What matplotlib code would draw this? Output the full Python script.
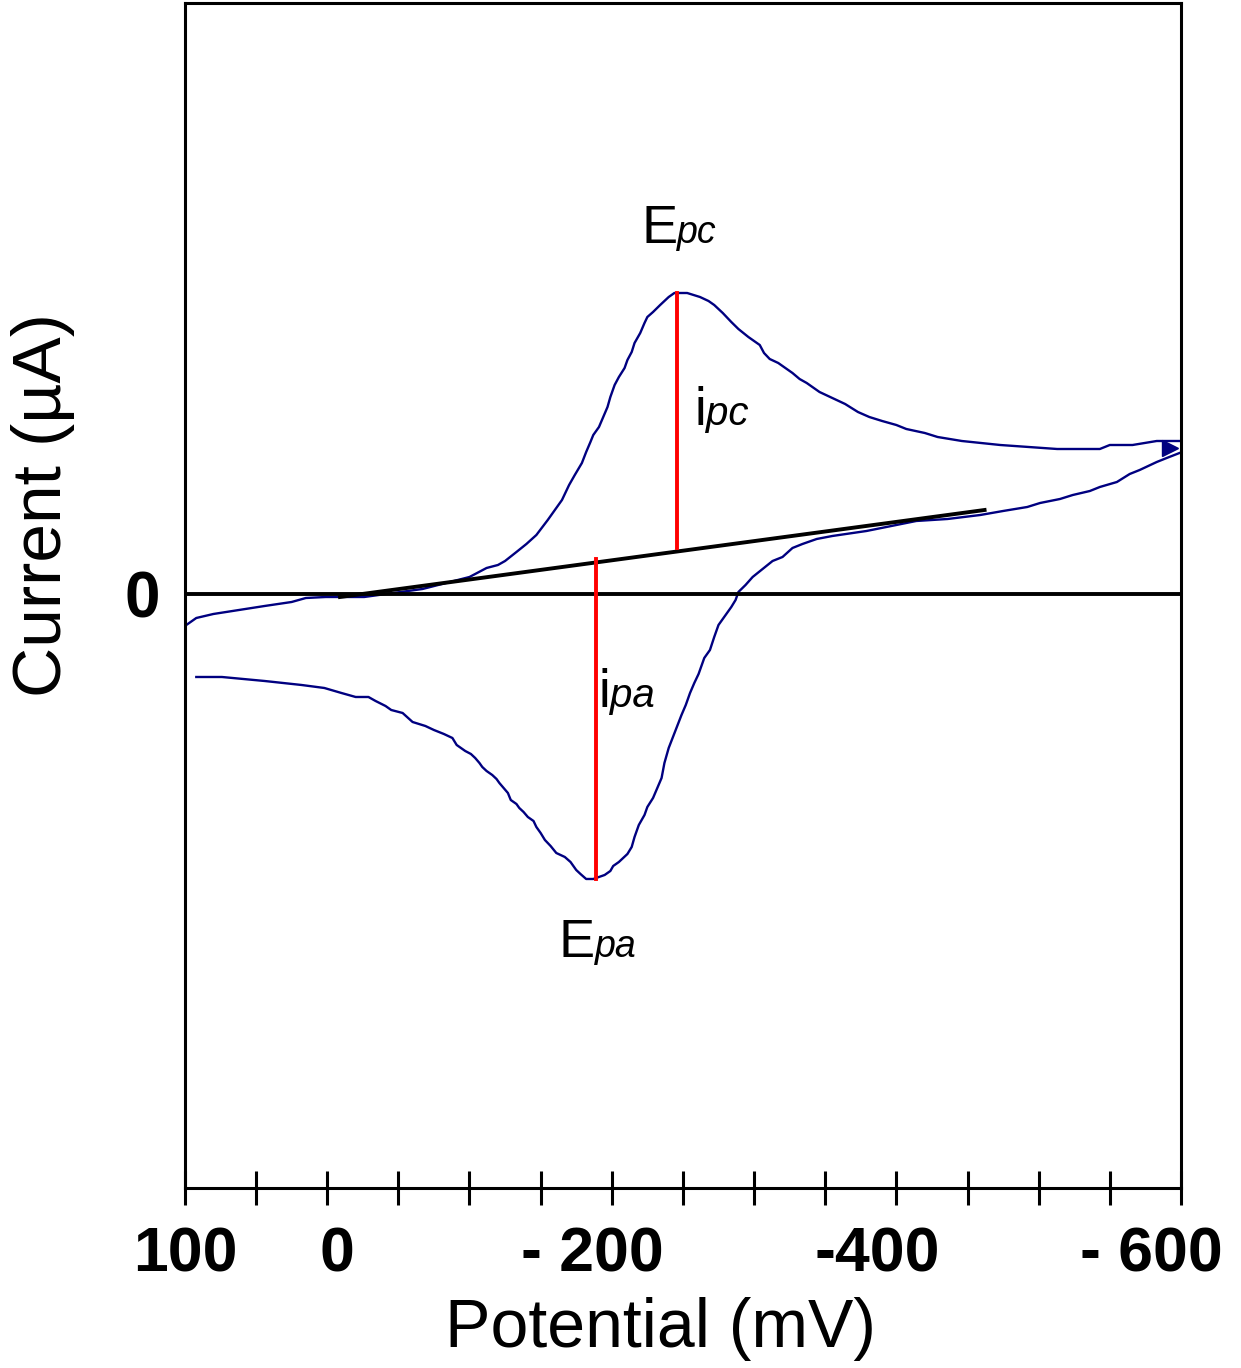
import matplotlib
matplotlib.use('Agg')
import matplotlib.pyplot as plt
import matplotlib.transforms as mtransforms
from matplotlib.ticker import FixedLocator

# forward scan (100 -> -600 mV), cathodic peak
fwd_mv = [99, 92, 80, 62, 44, 25, 15, 1, -26, -67, -100, -112, -120, -125, -133, -140,
          -147, -155, -161, -165, -170, -174, -179, -182, -185, -187, -191, -194, -197,
          -199, -202, -205, -209, -211, -214, -216, -220, -223, -225, -229, -234, -237,
          -240, -244, -253, -262, -268, -272, -278, -284, -289, -296, -304, -307, -311,
          -317, -327, -332, -337, -346, -352, -364, -373, -381, -390, -400, -407, -420,
          -429, -446, -473, -513, -543, -550, -566, -583, -599]
fwd_i = [-3.1, -2.4, -2.0, -1.6, -1.2, -0.8, -0.4, -0.3, -0.3, 0.5, 1.7, 2.6, 2.9, 3.3,
         4.2, 5.0, 5.9, 7.4, 8.6, 9.4, 10.9, 11.9, 13.1, 14.2, 15.2, 15.9, 16.7, 17.7,
         18.7, 19.7, 20.9, 21.7, 22.6, 23.4, 24.2, 25.1, 26.1, 27.1, 27.7, 28.2, 28.9,
         29.3, 29.7, 30.1, 30.1, 29.7, 29.3, 28.9, 28.1, 27.2, 26.5, 25.7, 24.9, 24.1,
         23.5, 23.1, 22.1, 21.5, 21.1, 20.2, 19.8, 19.0, 18.2, 17.7, 17.3, 16.9, 16.5,
         16.1, 15.7, 15.3, 14.9, 14.5, 14.5, 14.9, 14.9, 15.3, 15.3]

# reverse scan (-600 -> 100 mV), anodic peak
rev_mv = [-599, -590, -583, -571, -564, -555, -543, -536, -524, -515, -501, -492, -475,
          -459, -436, -414, -379, -355, -344, -334, -327, -320, -313, -306, -299, -294,
          -289, -287, -284, -280, -278, -275, -272, -269, -265, -263, -261, -258, -255,
          -252, -249, -246, -243, -240, -237, -235, -232, -229, -225, -223, -219, -216,
          -214, -211, -208, -205, -201, -199, -195, -187, -182, -178, -175, -171, -167,
          -161, -157, -153, -150, -147, -145, -141, -138, -135, -133, -129, -127, -124,
          -121, -119, -116, -112, -109, -107, -104, -101, -97, -91, -88, -82, -75, -69,
          -60, -53, -45, -41, -34, -29, -20, -10, 2, 18, 44, 74, 92]
rev_i = [14.1, 13.6, 13.2, 12.4, 12.0, 11.2, 10.7, 10.3, 9.9, 9.5, 9.1, 8.7, 8.3, 7.9,
         7.5, 7.3, 6.3, 5.8, 5.5, 5.0, 4.6, 3.7, 3.3, 2.5, 1.7, 0.9, 0.2, -0.6, -1.3,
         -2.1, -2.5, -3.1, -4.3, -5.6, -6.4, -7.2, -8.0, -8.9, -9.9, -11.1, -12.1, -13.2,
         -14.3, -15.4, -16.9, -18.4, -19.4, -20.4, -21.3, -22.1, -23.1, -24.3, -25.3,
         -26.0, -26.4, -26.8, -27.2, -27.7, -28.1, -28.5, -28.5, -28.0, -27.6, -26.8,
         -26.3, -25.9, -25.2, -24.6, -23.9, -23.3, -22.7, -22.3, -21.8, -21.4, -21.0,
         -20.6, -19.9, -19.4, -18.9, -18.5, -18.1, -17.7, -17.3, -16.9, -16.4, -16.0,
         -15.7, -15.1, -14.4, -14.0, -13.6, -13.2, -12.8, -11.9, -11.6, -11.2, -10.7,
         -10.3, -10.3, -9.9, -9.4, -9.1, -8.7, -8.3, -8.3]

# extrapolated baseline
base_mv = [-9, -462]
base_i = [-0.3, 8.4]

# peak potentials and peak current segments
epc, ipc_lo, ipc_hi = -246, 4.6, 30.1
epa, ipa_lo, ipa_hi = -189, 3.5, -28.5

major_ticks = [100, 0, -200, -400, -600]
major_labels = ['100', '0', '- 200', '-400', '- 600']
label_shift = [0, 10, -19, -19, -30]   # px, labels sit a bit off-centre
minor_ticks = [50, -50, -100, -150, -250, -300, -350, -450, -500, -550]

plt.rcParams['font.family'] = ['Liberation Sans', 'DejaVu Sans']

fig = plt.figure(figsize=(12.41, 13.68), dpi=100)
ax = fig.add_axes([0.149, 0.1316, 0.8026, 0.8662])

navy = '#000080'
ax.plot(fwd_mv, fwd_i, color=navy, lw=1.7)
ax.plot(rev_mv, rev_i, color=navy, lw=1.7)
ax.plot([-592], [14.6], marker='>', color=navy, ms=11)
ax.plot(base_mv, base_i, color='black', lw=2.8)
ax.axhline(0, color='black', lw=2.8)
ax.plot([epc, epc], [ipc_lo, ipc_hi], color='red', lw=2.8)
ax.plot([epa, epa], [ipa_lo, ipa_hi], color='red', lw=2.8)

# peak labels: big letter + small italic letters on same baseline
def peak_label(x, y, big, small, big_size, small_size):
    ax.text(x, y, big, ha='right', va='baseline', fontsize=big_size)
    ax.text(x, y, small, ha='left', va='baseline', fontsize=small_size, style='italic')

peak_label(-246, 35.1, 'E', 'pc', 39, 27)
peak_label(-188, -36.3, 'E', 'pa', 39, 27)
peak_label(-266, 16.9, 'i', 'pc', 38, 29)
peak_label(-199, -11.3, 'i', 'pa', 38, 29)

ax.set_xlim(100, -600)
ax.set_ylim(-59.4, 59.1)

ax.xaxis.set_major_locator(FixedLocator(major_ticks))
ax.set_xticklabels(major_labels, fontsize=45, fontweight='bold')
ax.xaxis.set_minor_locator(FixedLocator(minor_ticks))
ax.tick_params(axis='x', which='both', direction='inout', length=24, width=2.2, pad=15)
for lab, dx in zip(ax.get_xticklabels(), label_shift):
    lab.set_transform(lab.get_transform() +
                      mtransforms.ScaledTranslation(dx / 100, 0, fig.dpi_scale_trans))

ax.set_yticks([0])
ax.set_yticklabels(['0'], fontsize=46, fontweight='bold')
ax.tick_params(axis='y', length=0, pad=18)

for s in ax.spines.values():
    s.set_linewidth(2.2)

ax.set_xlabel('Potential (mV)', fontsize=49)
ax.xaxis.set_label_coords(0.477, -0.092)
ax.set_ylabel('Current (µA)', fontsize=50)
ax.yaxis.set_label_coords(-0.110, 0.576)

fig.savefig('out.png', dpi=100)
